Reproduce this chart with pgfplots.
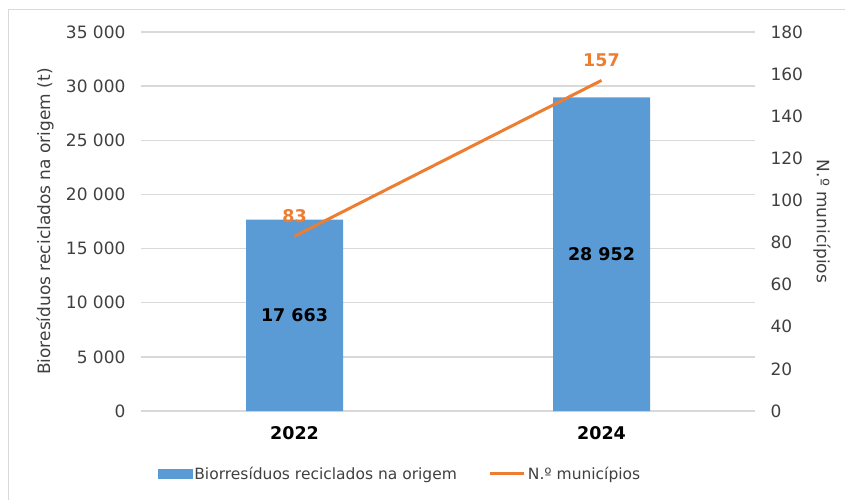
\documentclass[border=0pt]{standalone}
\usepackage{fontspec}
\setmainfont{DejaVu Sans}
\usepackage{pgfplots}
\pgfplotsset{compat=1.18}
\definecolor{barblue}{RGB}{91,155,213}
\definecolor{lineorange}{RGB}{237,125,49}
\definecolor{gridgray}{RGB}{217,217,217}
\definecolor{txt}{RGB}{64,64,64}

\begin{document}
\begin{tikzpicture}
\useasboundingbox (-141pt,-88pt) rectangle (704pt,411pt);
\draw[gridgray, line width=1pt] (-132pt,401pt) rectangle (760pt,-120pt);
% left axis: bars
\begin{axis}[width=614pt,height=379pt,scale only axis,
  xmin=-0.5,xmax=1.5,ymin=0,ymax=35000,
  xtick={0,1},xticklabels={2022,2024},
  ytick={0,5000,...,35000},scaled y ticks=false,
  /pgf/number format/1000 sep={\ },
  /pgf/number format/assume math mode=true,
  axis line style={draw=none},major tick length=0pt,
  ymajorgrids,grid style={gridgray,line width=1.3pt},
  ybar,bar width=97pt,
  tick label style={font=\fontsize{17}{20}\selectfont,text=txt},
  yticklabel style={xshift=-12pt},
  xticklabel style={font=\fontsize{17.5}{20}\selectfont\bfseries,text=black,yshift=-12pt},
  ylabel={Bioresíduos reciclados na origem (t)},
  ylabel style={font=\fontsize{17}{20}\selectfont,text=txt,
    at={(axis description cs:-0.156,0.5)},anchor=center}]
\addplot[fill=barblue,draw=none] coordinates {(0,17663) (1,28952)};
\node[font=\fontsize{17.5}{20}\selectfont\bfseries] at (axis cs:0,8831.5) {17 663};
\node[font=\fontsize{17.5}{20}\selectfont\bfseries] at (axis cs:1,14476) {28 952};
\end{axis}
% right axis: line
\begin{axis}[width=614pt,height=379pt,scale only axis,
  xmin=-0.5,xmax=1.5,ymin=0,ymax=180,
  ytick={0,20,...,180},
  /pgf/number format/assume math mode=true,
  axis y line*=right,axis x line=none,
  axis line style={draw=none},major tick length=0pt,
  tick label style={font=\fontsize{17}{20}\selectfont,text=txt},
  yticklabel style={xshift=12pt},
  ylabel={N.º municípios},
  ylabel style={font=\fontsize{17}{20}\selectfont,text=txt,
    at={(axis description cs:1.109,0.5)},anchor=center,rotate=180},
  legend columns=2,
  legend style={at={(axis description cs:0.422,-0.166)},anchor=center,
    draw=none,fill=none,font=\fontsize{15.5}{18}\selectfont,text=txt,
    /tikz/every even column/.append style={column sep=30pt}}]
\addlegendimage{legend image code/.code={\fill[barblue] (0pt,-4.5pt) rectangle (34pt,4.5pt);}}
\addlegendentry{Biorresíduos reciclados na origem}
\addplot[lineorange,line width=3pt,mark=none,
  nodes near coords,
  every node near coord/.append style={font=\fontsize{17.5}{20}\selectfont\bfseries,
    text=lineorange,anchor=south,yshift=9pt},
  legend image code/.code={\draw[lineorange,line width=3pt] (0pt,0pt) -- (34pt,0pt);}]
  coordinates {(0,83) (1,157)};
\addlegendentry{N.º municípios}
\end{axis}
\end{tikzpicture}
\end{document}
